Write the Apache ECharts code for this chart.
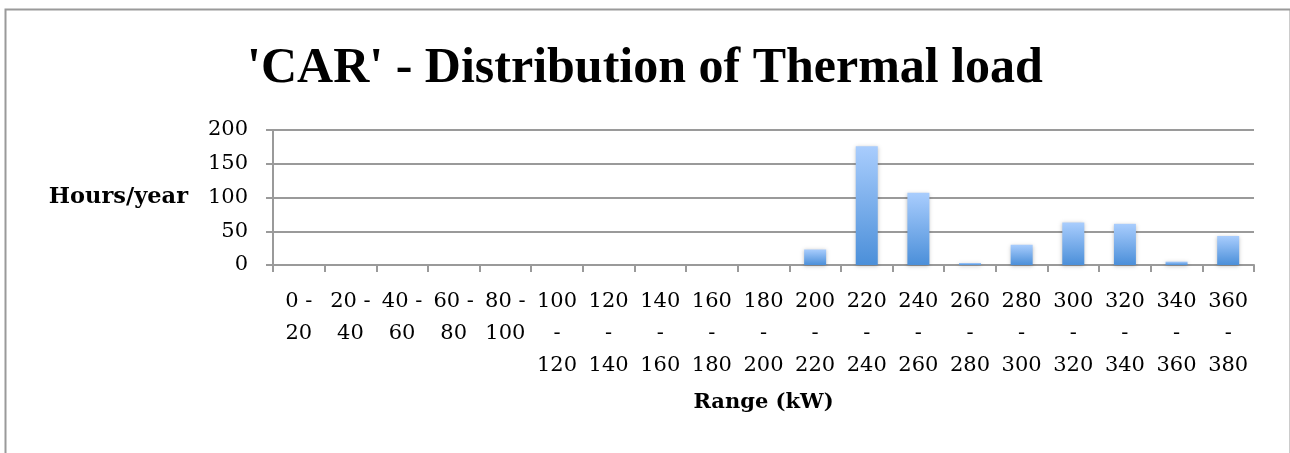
<!DOCTYPE html>
<html>
<head>
<meta charset="utf-8">
<script src="https://cdn.jsdelivr.net/npm/echarts@6/dist/echarts.min.js"></script>
<style>
html,body{margin:0;padding:0;background:#fff;}
#chart{width:1290px;height:453px;}
</style>
</head>
<body>
<div id="chart"></div>
<script>
const categories = ['0 - 20','20 - 40','40 - 60','60 - 80','80 - 100','100 - 120','120 - 140','140 - 160','160 - 180','180 - 200','200 - 220','220 - 240','240 - 260','260 - 280','280 - 300','300 - 320','320 - 340','340 - 360','360 - 380'];
const hoursPerYear = [0,0,0,0,0,0,0,0,0,0,23,176,107,3,30,63,61,5,43];
const yTicks = {min: 0, max: 200, interval: 50};
const titleText = "'CAR' - Distribution of Thermal load";
const yName = 'Hours/year';
const xName = 'Range (kW)';

const TITLE_FONT = '"Liberation Serif", serif';
const FONT = '"DejaVu Serif", "Liberation Serif", serif';
const chart = echarts.init(document.getElementById('chart'));
chart.setOption({
  animation: false,
  backgroundColor: '#fff',
  title: {
    text: titleText,
    left: 'center',
    top: 39,
    textStyle: {fontFamily: TITLE_FONT, fontWeight: 'bold', fontSize: 50, color: '#000'}
  },
  graphic: [{
    type: 'rect', left: 3, top: 7,
    shape: {width: 1285, height: 470},
    style: {fill: 'none', stroke: '#9a9a9a', lineWidth: 2},
    silent: true
  }],
  grid: {left: 273, right: 36, top: 130, bottom: 188, containLabel: false},
  xAxis: {
    type: 'category',
    data: categories,
    name: xName,
    nameLocation: 'middle',
    nameGap: 127,
    nameTextStyle: {fontFamily: FONT, fontWeight: 'bold', fontSize: 21, color: '#000'},
    axisLine: {show: true, lineStyle: {color: '#9a9a9a', width: 2}},
    axisTick: {show: true, alignWithLabel: false, length: 7, lineStyle: {color: '#9a9a9a', width: 2}},
    axisLabel: {
      interval: 0,
      margin: 21,
      fontFamily: FONT, fontSize: 21, color: '#000', lineHeight: 32,
      formatter: function (v) {
        const p = v.split(' - ');
        return (p[0].length < 3) ? (p[0] + ' -\n' + p[1]) : (p[0] + '\n-\n' + p[1]);
      }
    },
    splitLine: {show: false}
  },
  yAxis: {
    type: 'value',
    min: yTicks.min, max: yTicks.max, interval: yTicks.interval,
    name: yName,
    nameLocation: 'middle',
    nameRotate: 0,
    nameGap: 85,
    nameTextStyle: {fontFamily: FONT, fontWeight: 'bold', fontSize: 22.5, color: '#000'},
    axisLine: {show: true, lineStyle: {color: '#9a9a9a', width: 2}},
    axisTick: {show: true, length: 7, lineStyle: {color: '#9a9a9a', width: 2}},
    axisLabel: {margin: 25, fontFamily: FONT, fontSize: 21, color: '#000'},
    splitLine: {show: true, lineStyle: {color: '#9a9a9a', width: 2}}
  },
  series: [{
    type: 'bar',
    data: hoursPerYear,
    barWidth: 22,
    itemStyle: {
      color: new echarts.graphic.LinearGradient(0, 0, 0, 1, [
        {offset: 0, color: '#a9cdfd'},
        {offset: 1, color: '#4b8fd9'}
      ]),
      shadowColor: 'rgba(0,0,0,0.25)',
      shadowBlur: 4,
      shadowOffsetY: 1
    }
  }]
});
</script>
</body>
</html>
